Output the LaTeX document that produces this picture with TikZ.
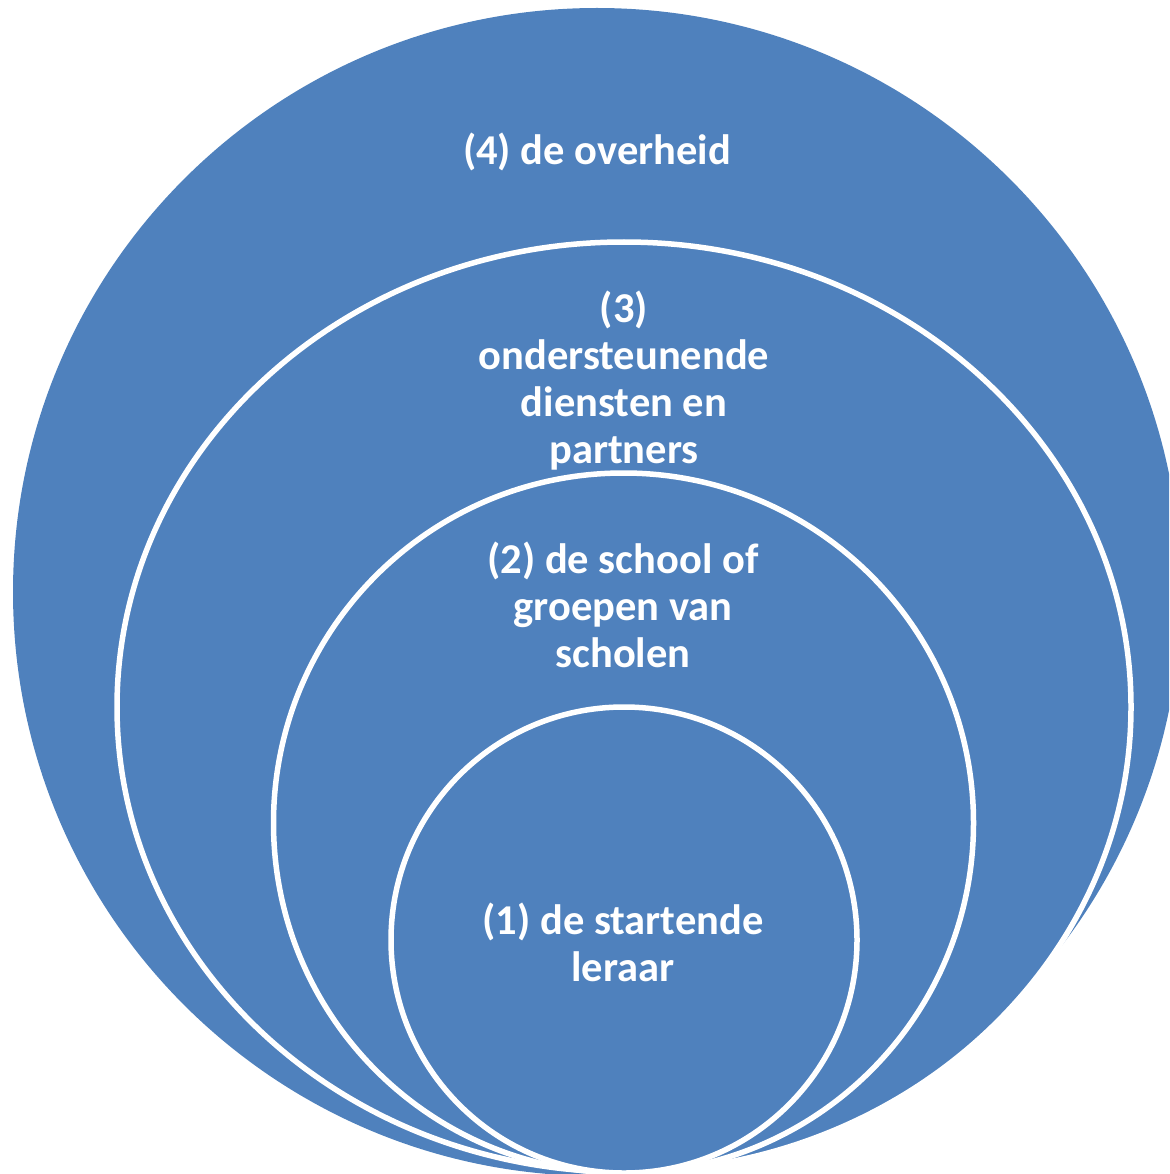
\documentclass[tikz,border=0pt]{standalone}
\usepackage{fontspec}
\setmainfont{Carlito}
\definecolor{ringblue}{HTML}{4F81BD}
\begin{document}
\begin{tikzpicture}[x=1pt,y=-1pt,
  ring/.style={fill=ringblue,draw=white,line width=5.5pt},
  lbl/.style={text=white,align=center,font=\fontsize{42.5}{47}\selectfont\bfseries,inner sep=0pt}]
\useasboundingbox (0,0) rectangle (1169,1174);
\clip (0,0) rectangle (1169,1174);
\fill[ringblue] (597,592) circle[radius=584pt];
\path[ring] (624,707) ellipse[x radius=507pt,y radius=465pt];
\path[ring] (623.5,823) circle[radius=350pt];
\path[ring] (624,940) circle[radius=233pt];
\node[lbl] (l4) at (597,152) {(4) de overheid};
\node[lbl] (l3) at (624,381) {(3)\\ondersteunende\\diensten en\\partners};
\node[lbl] (l2) at (623,605) {(2) de school of\\groepen van\\scholen};
\node[lbl] (l1) at (623,942) {(1) de startende\\leraar};
\end{tikzpicture}
\end{document}
